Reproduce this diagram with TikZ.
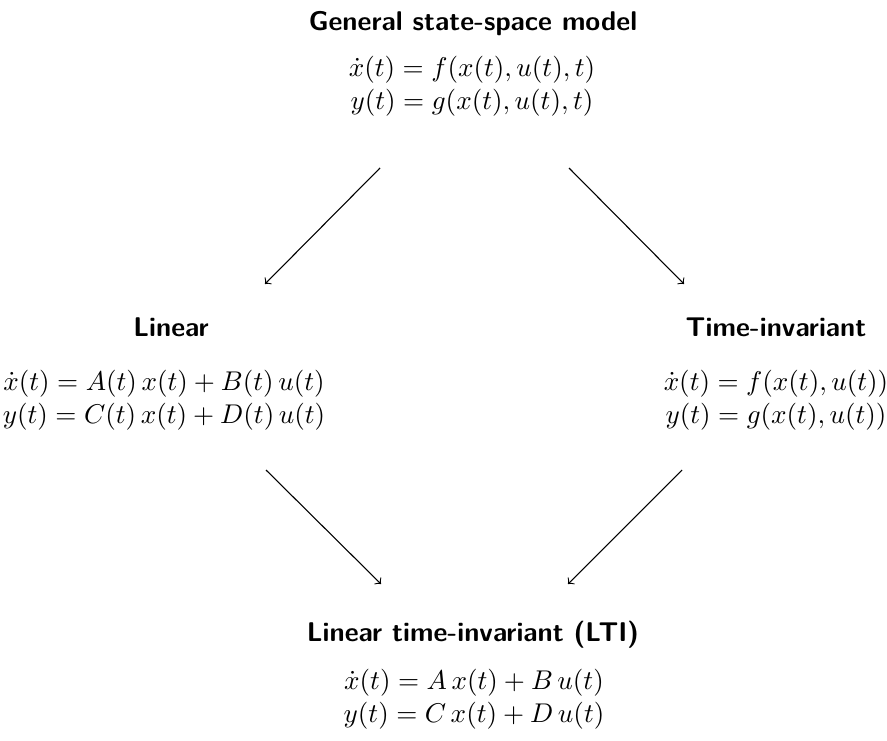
\documentclass[tikz,border=0pt]{standalone}
\usepackage{amsmath}
\begin{document}
\begin{tikzpicture}[x=0.369pt, y=-0.369pt,
  title/.style={font=\sffamily\bfseries, inner sep=0pt, anchor=base},
  eqs/.style={inner sep=0pt, align=center},
  link/.style={->, line width=0.4pt}]
\useasboundingbox (0,0) rectangle (887,740);
% block titles
\node[title] (gen-t) at (473,31) {General state-space model};
\node[title] (lin-t) at (171,336) {Linear};
\node[title] (ti-t)  at (776,336) {Time-invariant};
\node[title] (lti-t) at (473,641) {Linear time-invariant (LTI)};
% state and output equations
\node[eqs] (gen-e) at (472,86) {$\dot x(t) = f(x(t),u(t),t)$\\ $y(t) = g(x(t),u(t),t)$};
\node[eqs] (lin-e) at (164,400) {$\dot x(t) = A(t)\,x(t)+B(t)\,u(t)$\\ $y(t) = C(t)\,x(t)+D(t)\,u(t)$};
\node[eqs] (ti-e) at (776,400) {$\dot x(t) = f(x(t),u(t))$\\ $y(t) = g(x(t),u(t))$};
\node[eqs] (lti-e) at (474,699) {$\dot x(t) = A\,x(t)+B\,u(t)$\\ $y(t) = C\,x(t)+D\,u(t)$};
% arrow end points
\coordinate (a1s) at (380,168); \coordinate (a1e) at (265,284);
\coordinate (a2s) at (569,168); \coordinate (a2e) at (684,284);
\coordinate (a3s) at (266,470); \coordinate (a3e) at (381,584);
\coordinate (a4s) at (682,470); \coordinate (a4e) at (568,584);
\draw[link] (a1s) -- (a1e);
\draw[link] (a2s) -- (a2e);
\draw[link] (a3s) -- (a3e);
\draw[link] (a4s) -- (a4e);
\end{tikzpicture}
\end{document}
